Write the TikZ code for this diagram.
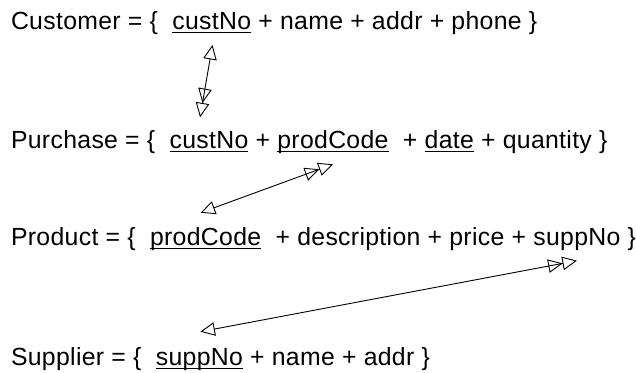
\documentclass[tikz,border=0pt]{standalone}
\usepackage{fontspec}
\setmainfont{Liberation Sans}[LetterSpace=1.3]
\usetikzlibrary{arrows.meta}
\newcommand\dfs{\fontsize{24.8}{29}\selectfont}
\begin{document}
\begin{tikzpicture}[x=1pt,y=-1pt,
  txt/.style={inner sep=0pt,outer sep=0pt,anchor=base west,font=\dfs},
  ul/.style={line width=1.2pt},
  link/.style={line width=0.9pt,
    arrows={{Triangle[open,length=14.5pt,width=13.5pt]}-{Triangle[open,length=14.5pt,width=13.5pt]Triangle[open,length=14.5pt,width=13.5pt]}}}]
\useasboundingbox (0,0) rectangle (636,372);
% line 1
\node[txt] (c0) at (11,29.3) {Customer~=~\{~~\null};
\node[txt] (c1) at (c0.base east) {custNo};
\node[txt] (c2) at (c1.base east) {~+~name~+~addr~+~phone~\}};
% line 2
\node[txt] (p0) at (11,148.3) {Purchase~=~\{~~\null};
\node[txt] (p1) at (p0.base east) {custNo};
\node[txt] (p2) at (p1.base east) {~+~\null};
\node[txt] (p3) at (p2.base east) {prodCode};
\node[txt] (p4) at (p3.base east) {~~+~\null};
\node[txt] (p5) at (p4.base east) {date};
\node[txt] (p6) at (p5.base east) {~+~quantity~\}};
% line 3
\node[txt] (r0) at (11,245) {Product~=~\{~~\null};
\node[txt] (r1) at (r0.base east) {prodCode};
\node[txt] (r2) at (r1.base east) {~~+~description~+~price~+~\null};
\node[txt] (r3) at (r2.base east) {suppNo};
\node[txt] (r4) at (r3.base east) {~\}};
% line 4
\node[txt] (s0) at (11,365) {Supplier~=~\{~~\null};
\node[txt] (s1) at (s0.base east) {suppNo};
\node[txt] (s2) at (s1.base east) {~+~name~+~addr~\}};
% underlines
\foreach \n in {c1,p1,p3,p5,r1,s1}
  \draw[ul] ([yshift=-3.2pt]\n.base west) -- ([yshift=-3.2pt]\n.base east);
% connector ends
\coordinate (a1s) at ([xshift=0.7pt,yshift=-15.7pt]c1.base);
\coordinate (a1e) at ([xshift=-9pt,yshift=31pt]p1.base);
\coordinate (a2s) at ([xshift=-5pt,yshift=32.3pt]r1.base);
\coordinate (a2e) at ([xshift=0pt,yshift=-16pt]p3.base);
\coordinate (a3s) at ([xshift=1pt,yshift=33.3pt]s1.base);
\coordinate (a3e) at ([xshift=0pt,yshift=-15.7pt]r3.base);
\draw[link] (a1s) -- (a1e);
\draw[link] (a2s) -- (a2e);
\draw[link] (a3s) -- (a3e);
\end{tikzpicture}
\end{document}
